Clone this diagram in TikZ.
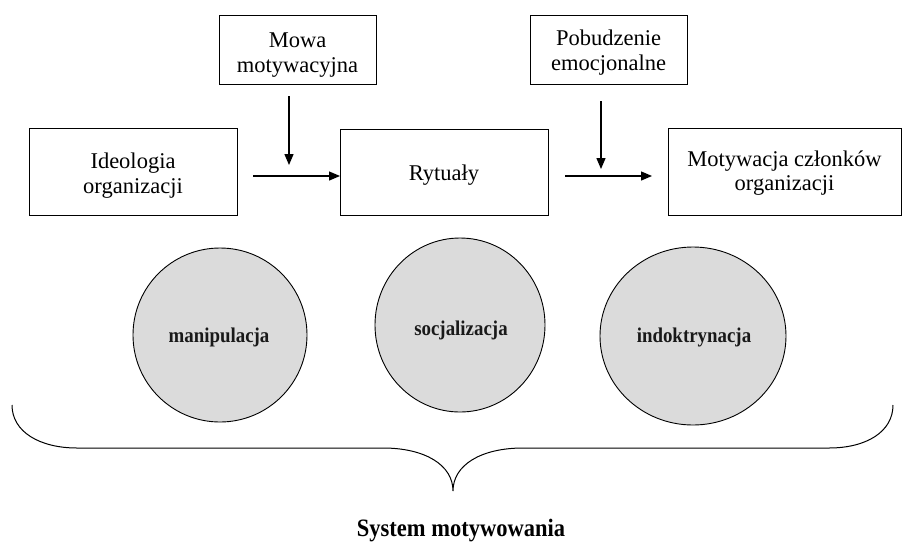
\documentclass[tikz,border=0pt]{standalone}
\usepackage{fontspec}
\setmainfont{Liberation Serif}
\usepackage{graphicx}
\usetikzlibrary{arrows.meta,shapes.geometric}
\begin{document}
\begin{tikzpicture}[x=1pt,y=-1pt,
  boxnode/.style={draw=black,line width=0.9pt,inner sep=0pt,outer sep=0pt},
  lbl/.style={anchor=base,inner sep=0pt,font=\fontsize{22.5}{25}\selectfont},
  clbl/.style={anchor=base,inner sep=0pt,text=black!90,font=\fontsize{21}{24}\selectfont\bfseries},
  oval/.style={ellipse,draw=black,line width=0.9pt,fill=black!14,inner sep=0pt},
  arr/.style={-{Triangle[length=11pt,width=9pt]},line width=1.3pt},
  bracestyle/.style={line width=1pt,draw=black}]
\useasboundingbox (0,0) rectangle (903,542);

% boxes
\node[boxnode,minimum width=157pt,minimum height=69pt] (mowa) at (297.5,49.5) {};
\node[boxnode,minimum width=157pt,minimum height=69pt] (pob) at (608.5,49.5) {};
\node[boxnode,minimum width=208pt,minimum height=87pt] (ideo) at (133,171.5) {};
\node[boxnode,minimum width=208pt,minimum height=86pt] (ryt) at (444,172) {};
\node[boxnode,minimum width=233pt,minimum height=87pt] (mot) at (784.5,171.5) {};

% box texts
\node[lbl] (mowa1) at (297.5,47) {Mowa};
\node[lbl] (mowa2) at (297.5,72) {motywacyjna};
\node[lbl] (pob1) at (608.5,45) {Pobudzenie};
\node[lbl] (pob2) at (608.5,70) {emocjonalne};
\node[lbl] (ideo1) at (133,168) {Ideologia};
\node[lbl] (ideo2) at (133,193) {organizacji};
\node[lbl] (ryt1) at (444,180) {Rytuały};
\node[lbl] (mot1) at (784.5,166) {Motywacja członków};
\node[lbl] (mot2) at (784.5,190) {organizacji};

% arrows
\coordinate (a1s) at (253,176);
\draw[arr] (a1s) -- (a1s -| ryt.west);
\coordinate (v1s) at (289,96);
\coordinate (v1e) at (289,165);
\draw[arr] (v1s) -- (v1e);
\coordinate (a2s) at (565,176);
\coordinate (a2e) at (652,176);
\draw[arr] (a2s) -- (a2e);
\coordinate (v2s) at (601,101);
\coordinate (v2e) at (601,169);
\draw[arr] (v2s) -- (v2e);

% ovals
\node[oval,minimum width=174pt,minimum height=174pt] (c1) at (220,335) {};
\node[oval,minimum width=170pt,minimum height=174pt] (c2) at (460,325) {};
\node[oval,minimum width=186pt,minimum height=178pt] (c3) at (693,336) {};
\node[clbl] (c1t) at (219,342) {\scalebox{0.9}[1]{manipulacja}};
\node[clbl] (c2t) at (461,335) {\scalebox{0.9}[1]{socjalizacja}};
\node[clbl] (c3t) at (694,342) {\scalebox{0.9}[1]{indoktrynacja}};

% brace
\draw[bracestyle] (12,405) .. controls (12,432) and (40,448) .. (77,448)
  -- (383,448) .. controls (425,448) and (453,465) .. (453,491)
  .. controls (453,465) and (481,448) .. (523,448)
  -- (829,448) .. controls (866,448) and (893,432) .. (893,405);

\node[anchor=base,inner sep=0pt,font=\fontsize{25}{28}\selectfont\bfseries] (sys) at (461,536) {\scalebox{0.9}[1]{System motywowania}};
\end{tikzpicture}
\end{document}
